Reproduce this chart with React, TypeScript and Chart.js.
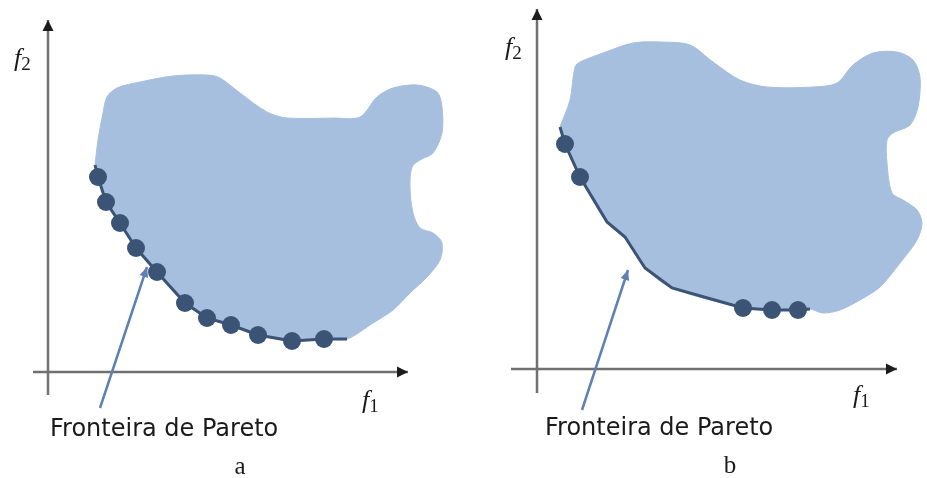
import { useEffect, useRef } from "react";
import { Chart, registerables } from "chart.js";

Chart.register(...registerables);

type Pt = [number, number];

// ---- Panel a: feasible region outline (f1, f2), frontier and Pareto points ----
const edgeA: Pt[] = [
  [5.0, 23.2], [5.5, 25.9], [5.9, 27.5], [6.9, 28.4], [9.2, 29.0], [12.5, 29.6],
  [15.9, 29.7], [17.2, 29.4], [19.2, 27.9], [21.9, 26.0], [23.9, 25.4], [28.5, 25.4],
  [31.2, 25.5], [32.9, 27.5], [34.5, 28.4], [36.9, 28.7], [38.9, 28.0], [39.4, 26.5],
  [39.4, 23.9], [38.5, 21.9], [37.2, 21.2], [36.4, 20.5], [36.2, 18.5], [36.5, 15.9],
  [37.2, 14.4], [38.5, 13.9], [39.4, 12.9], [39.2, 11.2], [37.9, 9.5], [36.2, 7.9],
  [34.5, 6.2], [32.5, 4.9],
];
const paretoA: Pt[] = [
  [5.0, 19.5], [5.8, 17.0], [7.2, 14.9], [8.8, 12.4], [10.9, 10.0], [13.7, 6.9],
  [15.9, 5.4], [18.3, 4.7], [21.0, 3.7], [24.4, 3.1], [27.6, 3.3],
];
const frontierA: Pt[] = [[4.7, 20.7], ...paretoA, [29.9, 3.3]];
const pointerA: Pt[] = [[5.2, -3.6], [9.9, 10.5]];
const f1AxisA: Pt[] = [[-1.5, 0], [36.0, 0]];
const f2AxisA: Pt[] = [[0, -2.3], [0, 35.2]];

// ---- Panel b ----
const edgeB: Pt[] = [
  [3.3, 26.9], [3.8, 30.2], [4.3, 30.7], [6.6, 31.6], [9.6, 32.6], [12.3, 32.7],
  [15.3, 32.4], [17.6, 30.7], [20.3, 28.9], [23.0, 28.2], [27.6, 28.2], [30.0, 28.6],
  [31.6, 30.4], [33.6, 31.6], [36.0, 31.7], [37.6, 30.9], [38.3, 29.2], [38.1, 26.2],
  [37.3, 24.4], [35.6, 23.6], [35.0, 22.9], [35.0, 20.6], [35.5, 17.6], [36.6, 16.9],
  [38.0, 15.9], [38.5, 14.6], [38.0, 12.9], [36.3, 10.6], [34.3, 8.2], [32.3, 6.9],
  [30.3, 5.9], [28.6, 5.6],
];
const paretoB: Pt[] = [[2.8, 22.5], [4.3, 19.2], [20.6, 6.1], [23.5, 5.9], [26.1, 5.9]];
const frontierB: Pt[] = [
  [2.3, 24.2], [2.8, 22.5], [4.3, 19.2], [7.0, 14.7], [8.8, 13.2], [10.8, 10.1],
  [13.5, 8.1], [20.6, 6.1], [23.5, 5.9], [26.1, 5.9], [27.3, 6.0],
];
const pointerB: Pt[] = [[4.5, -4.1], [9.1, 9.9]];
const f1AxisB: Pt[] = [[-2.6, 0], [36.0, 0]];
const f2AxisB: Pt[] = [[0, -2.4], [0, 36.0]];

const FRONT_LABEL = "Fronteira de Pareto";

const REGION = "#a6bfdf";
const NAVY = "#3b5375";
const POINTER = "#5f80b2";
const AXIS = "#707070";
const AXIS_HEAD = "#1c1c1c";

type TextItem = {
  text: string;
  sub?: string;
  x: number;
  y: number;
  kind: "math" | "sans" | "serif";
  align?: CanvasTextAlign;
};

type PanelSpec = {
  width: number;
  xRange: [number, number];
  yRange: [number, number];
  edge: Pt[];
  frontier: Pt[];
  pareto: Pt[];
  pointer: Pt[];
  f1Axis: Pt[];
  f2Axis: Pt[];
  texts: TextItem[];
};

const xy = (pts: Pt[]) => pts.map(([x, y]) => ({ x, y }));

// Filled triangles at the end of datasets that carry an `arrowHead` option
const arrowHeads = {
  id: "arrowHeads",
  afterDatasetsDraw(chart: any) {
    const ctx = chart.ctx as CanvasRenderingContext2D;
    chart.data.datasets.forEach((ds: any, i: number) => {
      if (!ds.arrowHead) return;
      const pts = chart.getDatasetMeta(i).data;
      const a = pts[pts.length - 2];
      const b = pts[pts.length - 1];
      const ang = Math.atan2(b.y - a.y, b.x - a.x);
      const { length, width, color } = ds.arrowHead;
      ctx.save();
      ctx.translate(b.x, b.y);
      ctx.rotate(ang);
      ctx.beginPath();
      ctx.moveTo(0, 0);
      ctx.lineTo(-length, width / 2);
      ctx.lineTo(-length, -width / 2);
      ctx.closePath();
      ctx.fillStyle = color;
      ctx.fill();
      ctx.restore();
    });
  },
};

// Axis names, caption and panel letter
const panelText = {
  id: "panelText",
  afterDraw(chart: any, _args: any, opts: any) {
    const ctx = chart.ctx as CanvasRenderingContext2D;
    const sx = chart.scales.x;
    const sy = chart.scales.y;
    ctx.save();
    ctx.textBaseline = "alphabetic";
    for (const t of (opts.items || []) as TextItem[]) {
      const px = sx.getPixelForValue(t.x);
      const py = sy.getPixelForValue(t.y);
      ctx.fillStyle = "#1a1a1a";
      if (t.kind === "math") {
        ctx.textAlign = "left";
        ctx.font = 'italic 26px "Liberation Serif"';
        ctx.fillText(t.text, px, py);
        const w = ctx.measureText(t.text).width;
        ctx.font = '19px "Liberation Serif"';
        ctx.fillText(t.sub || "", px + w, py + 4);
      } else if (t.kind === "sans") {
        ctx.textAlign = t.align || "left";
        ctx.font = '24px "DejaVu Sans"';
        ctx.fillText(t.text, px, py);
      } else {
        ctx.textAlign = t.align || "center";
        ctx.font = '25px "Liberation Serif"';
        ctx.fillText(t.text, px, py);
      }
    }
    ctx.restore();
  },
};

const panelA: PanelSpec = {
  width: 463,
  xRange: [-4.8, 41.5],
  yRange: [-10.6, 37.2],
  edge: edgeA,
  frontier: frontierA,
  pareto: paretoA,
  pointer: pointerA,
  f1Axis: f1AxisA,
  f2Axis: f2AxisA,
  texts: [
    { text: "f", sub: "2", x: -3.4, y: 30.6, kind: "math" },
    { text: "f", sub: "1", x: 31.4, y: -3.6, kind: "math" },
    { text: FRONT_LABEL, x: 0.2, y: -6.4, kind: "sans" },
    { text: "a", x: 19.2, y: -10.2, kind: "serif" },
  ],
};

const panelB: PanelSpec = {
  width: 464,
  xRange: [-7.4, 39.0],
  yRange: [-10.9, 36.9],
  edge: edgeB,
  frontier: frontierB,
  pareto: paretoB,
  pointer: pointerB,
  f1Axis: f1AxisB,
  f2Axis: f2AxisB,
  texts: [
    { text: "f", sub: "2", x: -3.2, y: 31.4, kind: "math" },
    { text: "f", sub: "1", x: 31.6, y: -3.4, kind: "math" },
    { text: FRONT_LABEL, x: 0.8, y: -6.6, kind: "sans" },
    { text: "b", x: 19.3, y: -10.4, kind: "serif" },
  ],
};

function Panel({ spec, left }: { spec: PanelSpec; left: number }) {
  const ref = useRef<HTMLCanvasElement | null>(null);

  useEffect(() => {
    if (!ref.current) return;
    const outline = [
      spec.frontier[0],
      ...spec.edge,
      ...spec.frontier.slice().reverse(),
    ];
    const axisHead = { length: 11, width: 11, color: AXIS_HEAD };
    const chart = new Chart(ref.current, {
      type: "line",
      data: {
        datasets: [
          {
            label: "pareto",
            data: xy(spec.pareto),
            showLine: false,
            pointRadius: 9,
            pointBackgroundColor: NAVY,
            pointBorderWidth: 0,
            order: 1,
          },
          {
            label: "frontier",
            data: xy(spec.frontier),
            borderColor: NAVY,
            borderWidth: 3,
            pointRadius: 0,
            tension: 0,
            fill: false,
            order: 2,
          },
          {
            label: "pointer",
            data: xy(spec.pointer),
            borderColor: POINTER,
            borderWidth: 2.5,
            pointRadius: 0,
            fill: false,
            order: 3,
            arrowHead: { length: 10, width: 9, color: POINTER },
          } as any,
          {
            label: "f1 axis",
            data: xy(spec.f1Axis),
            borderColor: AXIS,
            borderWidth: 2.5,
            pointRadius: 0,
            fill: false,
            order: 4,
            arrowHead: axisHead,
          } as any,
          {
            label: "f2 axis",
            data: xy(spec.f2Axis),
            borderColor: AXIS,
            borderWidth: 2.5,
            pointRadius: 0,
            fill: false,
            order: 4,
            arrowHead: axisHead,
          } as any,
          {
            label: "region",
            data: xy(outline),
            borderColor: REGION,
            backgroundColor: REGION,
            borderWidth: 1,
            pointRadius: 0,
            tension: 0.3,
            fill: "shape",
            order: 5,
          } as any,
        ],
      },
      options: {
        animation: false,
        responsive: false,
        events: [],
        layout: { padding: 0, autoPadding: false },
        scales: {
          x: { type: "linear", min: spec.xRange[0], max: spec.xRange[1], display: false },
          y: { type: "linear", min: spec.yRange[0], max: spec.yRange[1], display: false },
        },
        plugins: {
          legend: { display: false },
          tooltip: { enabled: false },
          panelText: { items: spec.texts },
        } as any,
      } as any,
      plugins: [arrowHeads, panelText],
    });
    return () => chart.destroy();
  }, [spec]);

  return (
    <canvas
      ref={ref}
      width={spec.width}
      height={478}
      style={{ position: "absolute", left, top: 0, width: spec.width, height: 478 }}
    />
  );
}

export default function App() {
  return (
    <div
      style={{
        position: "absolute",
        left: 0,
        top: 0,
        width: 927,
        height: 478,
        background: "#ffffff",
        overflow: "hidden",
      }}
    >
      <Panel spec={panelA} left={0} />
      <Panel spec={panelB} left={463} />
    </div>
  );
}
